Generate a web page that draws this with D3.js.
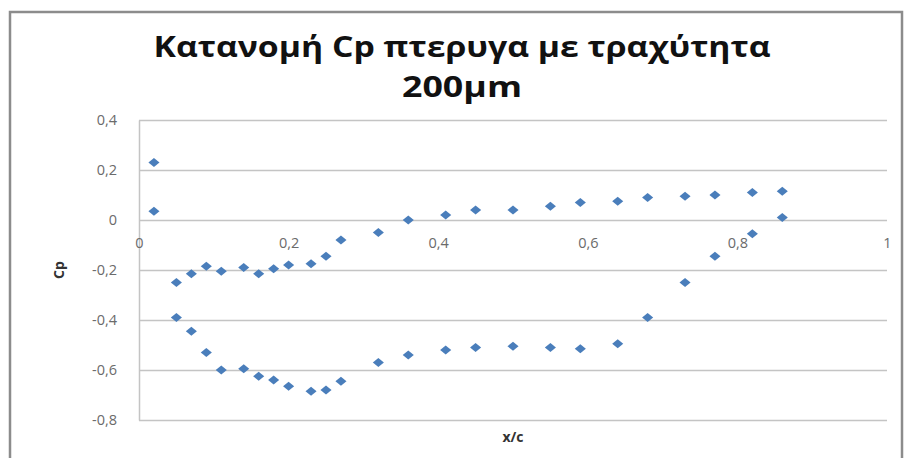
<!DOCTYPE html>
<html>
<head>
<meta charset="utf-8">
<script src="https://cdn.jsdelivr.net/npm/d3@7"></script>
<style>
  html, body { margin: 0; padding: 0; background: #fff; }
  svg { display: block; }
</style>
</head>
<body>
<svg></svg>
<script>
// ---- data ---------------------------------------------------
const titleLines = ["Κατανομή Cp πτερυγα με τραχύτητα", "200μm"];
const xTicks      = [0, 0.2, 0.4, 0.6, 0.8, 1];
const xTickLabels = ["0", "0,2", "0,4", "0,6", "0,8", "1"];
const yTicks      = [0.4, 0.2, 0, -0.2, -0.4, -0.6, -0.8];
const yTickLabels = ["0,4", "0,2", "0", "-0,2", "-0,4", "-0,6", "-0,8"];

const xc  = [0.02, 0.05, 0.07, 0.09, 0.11, 0.14, 0.16, 0.18, 0.2, 0.23, 0.25, 0.27, 0.32,
             0.36, 0.41, 0.45, 0.5, 0.55, 0.59, 0.64, 0.68, 0.73, 0.77, 0.82, 0.86];
const cpA = [0.23, -0.25, -0.215, -0.185, -0.205, -0.19, -0.215, -0.195, -0.18, -0.175, -0.145, -0.08, -0.05,
             0.0, 0.02, 0.04, 0.04, 0.055, 0.07, 0.075, 0.09, 0.095, 0.1, 0.11, 0.115];
const cpB = [0.035, -0.39, -0.445, -0.53, -0.6, -0.595, -0.625, -0.64, -0.665, -0.685, -0.68, -0.645, -0.57,
             -0.54, -0.52, -0.51, -0.505, -0.51, -0.515, -0.495, -0.39, -0.25, -0.145, -0.055, 0.01];

// -------------------------------------------------------------
const width = 909;
const height = 458;
const svg = d3.select('svg').attr('width', width).attr('height', height);

const x = d3.scaleLinear().domain([0, 1]).range([139, 887]);
const y = d3.scaleLinear().domain([-0.8, 0.4]).range([420, 120]);

// chart frame
svg.append('rect')
  .attr('x', 10).attr('y', 12)
  .attr('width', 892).attr('height', 470)
  .attr('fill', '#fff')
  .attr('stroke', '#8c8c8c')
  .attr('stroke-width', 2.5);

// title (stretched a little, the original font is wider)
const title = svg.append('g')
  .attr('font-family', '"Open Sans", sans-serif')
  .attr('font-weight', 'bold')
  .attr('fill', '#111')
  .attr('text-anchor', 'middle');
title.selectAll('text')
  .data(titleLines)
  .enter().append('text')
  .attr('x', 462)
  .attr('y', (d, i) => 57 + i * 40)
  .attr('font-size', 29)
  .attr('textLength', (d, i) => i === 0 ? 617 : 120)
  .attr('lengthAdjust', 'spacingAndGlyphs')
  .text(d => d);

// gridlines
svg.append('g')
  .attr('transform', `translate(${x(0)},0)`)
  .call(d3.axisLeft(y).tickValues(yTicks).tickSize(-(x(1) - x(0))).tickFormat(''))
  .call(g => g.select('.domain').remove())
  .call(g => g.selectAll('line').attr('stroke', '#c4c4c4').attr('stroke-width', 1.5));

// y axis line + labels
const yAxis = svg.append('g')
  .attr('transform', `translate(${x(0)},0)`)
  .call(d3.axisLeft(y).tickValues(yTicks).tickSize(0).tickPadding(22)
    .tickFormat((d, i) => yTickLabels[i]));
yAxis.select('.domain').attr('stroke', '#c4c4c4').attr('stroke-width', 1.5);
yAxis.selectAll('text')
  .attr('font-family', '"Open Sans", sans-serif')
  .attr('font-size', 14.5)
  .attr('fill', '#6b6b6b');

// x axis labels (axis crosses at 0)
const xAxis = svg.append('g')
  .attr('transform', `translate(0,${y(0)})`)
  .call(d3.axisBottom(x).tickValues(xTicks).tickSize(0).tickPadding(18)
    .tickFormat((d, i) => xTickLabels[i]));
xAxis.select('.domain').remove();
xAxis.selectAll('text')
  .attr('font-family', '"Open Sans", sans-serif')
  .attr('font-size', 14.5)
  .attr('fill', '#6b6b6b');

// axis titles
svg.append('text')
  .attr('transform', `translate(64,${y(-0.2)}) rotate(-90)`)
  .attr('text-anchor', 'middle')
  .attr('font-family', '"Open Sans", sans-serif')
  .attr('font-weight', 'bold')
  .attr('font-size', 14)
  .attr('fill', '#333')
  .text('Cp');

svg.append('text')
  .attr('x', 513).attr('y', 442)
  .attr('text-anchor', 'middle')
  .attr('font-family', '"Open Sans", sans-serif')
  .attr('font-weight', 'bold')
  .attr('font-size', 14)
  .attr('fill', '#333')
  .text('x/c');

// diamond markers, a bit wider than tall
const wideDiamond = {
  draw(context, size) {
    const w = Math.sqrt(size) * 0.62, h = w * 0.8;
    context.moveTo(0, -h);
    context.lineTo(w, 0);
    context.lineTo(0, h);
    context.lineTo(-w, 0);
    context.closePath();
  }
};
const marker = d3.symbol().type(wideDiamond).size(80);

const points = xc.map((v, i) => ({ x: v, cp: cpA[i] }))
  .concat(xc.map((v, i) => ({ x: v, cp: cpB[i] })));

svg.append('g')
  .selectAll('path')
  .data(points)
  .enter().append('path')
  .attr('transform', d => `translate(${x(d.x)},${y(d.cp)})`)
  .attr('d', marker)
  .attr('fill', '#4a7ebb');
</script>
</body>
</html>
